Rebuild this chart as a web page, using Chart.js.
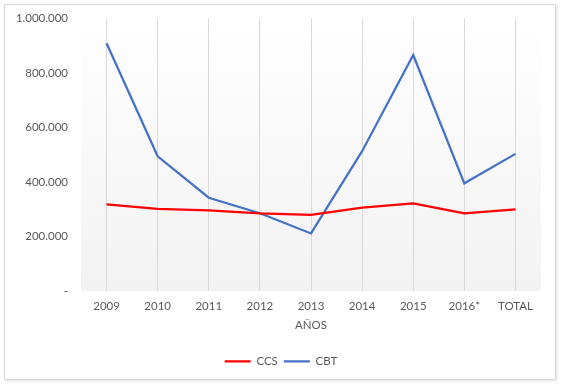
<!DOCTYPE html>
<html>
<head>
<meta charset="utf-8">
<script src="https://cdn.jsdelivr.net/npm/chart.js@4.4.0/dist/chart.umd.min.js"></script>
<style>
  body { margin: 0; background: #fff; }
  #box {
    position: absolute; left: 4px; top: 4px; width: 550px; height: 374px;
    border: 1px solid #d9d9d9; box-shadow: 1px 1px 2px rgba(0,0,0,0.12); background: #fff;
  }
  canvas { display: block; }
</style>
</head>
<body>
<div id="box"><canvas id="chart" width="550" height="374"></canvas></div>
<script>
  const years = ['2009', '2010', '2011', '2012', '2013', '2014', '2015', '2016*', 'TOTAL'];
  const ccsValues = [318000, 301000, 296000, 285000, 279000, 306000, 321000, 285000, 299000];
  const cbtValues = [909000, 494000, 342000, 285000, 211000, 513000, 866000, 395000, 503000];
  const yTicks = [0, 200000, 400000, 600000, 800000, 1000000];

  function formatNum(v) {
    if (v === 0) return '-';
    return String(v).replace(/\B(?=(\d{3})+(?!\d))/g, '.');
  }

  // soft vertical gradient behind the plot area
  const plotBg = {
    id: 'plotBg',
    beforeDraw(chart) {
      const a = chart.chartArea;
      const ctx = chart.ctx;
      const g = ctx.createLinearGradient(0, a.top, 0, a.bottom);
      g.addColorStop(0, '#ffffff');
      g.addColorStop(1, '#f2f2f2');
      ctx.save();
      ctx.fillStyle = g;
      ctx.fillRect(a.left, a.top, a.right - a.left, a.bottom - a.top);
      ctx.restore();
    }
  };

  // nudge legend a bit to the right, like the original
  const legendShift = {
    id: 'legendShift',
    afterLayout(chart) {
      chart.legend.left += 8;
      chart.legend.right += 8;
    }
  };

  const textColor = '#595959';
  const font = { family: 'Lato', size: 11.5 };

  const ctx = document.getElementById('chart').getContext('2d');
  const chart = new Chart(ctx, {
    type: 'line',
    data: {
      labels: years,
      datasets: [
        { label: 'CCS', data: ccsValues, borderColor: '#ff0000', backgroundColor: '#ff0000', borderWidth: 2.25, pointRadius: 0, tension: 0 },
        { label: 'CBT', data: cbtValues, borderColor: '#4472c4', backgroundColor: '#4472c4', borderWidth: 2.25, pointRadius: 0, tension: 0 }
      ]
    },
    options: {
      responsive: false,
      animation: false,
      layout: { padding: { top: 0, right: 14, left: 0, bottom: 2 } },
      plugins: {
        legend: {
          position: 'bottom',
          labels: {
            usePointStyle: true, pointStyle: 'line', pointStyleWidth: 26,
            color: textColor, font: font, padding: 6
          }
        },
        tooltip: { enabled: false }
      },
      scales: {
        x: {
          offset: true,
          grid: { color: '#d9d9d9', drawTicks: false, offset: false },
          border: { display: false },
          ticks: { color: textColor, font: font, padding: 8 },
          title: { display: true, text: 'AÑOS', color: textColor, font: font, padding: { top: -2, bottom: 17 } }
        },
        y: {
          min: 0, max: 1000000,
          afterBuildTicks(axis) { axis.ticks = yTicks.map(v => ({ value: v })); },
          afterFit(axis) { axis.width = 76; axis.paddingTop = 13.5; },
          grid: { display: false, drawTicks: false },
          border: { display: false },
          ticks: { color: textColor, font: font, padding: 13, callback: v => formatNum(v) }
        }
      }
    },
    plugins: [plotBg, legendShift]
  });
</script>
</body>
</html>
